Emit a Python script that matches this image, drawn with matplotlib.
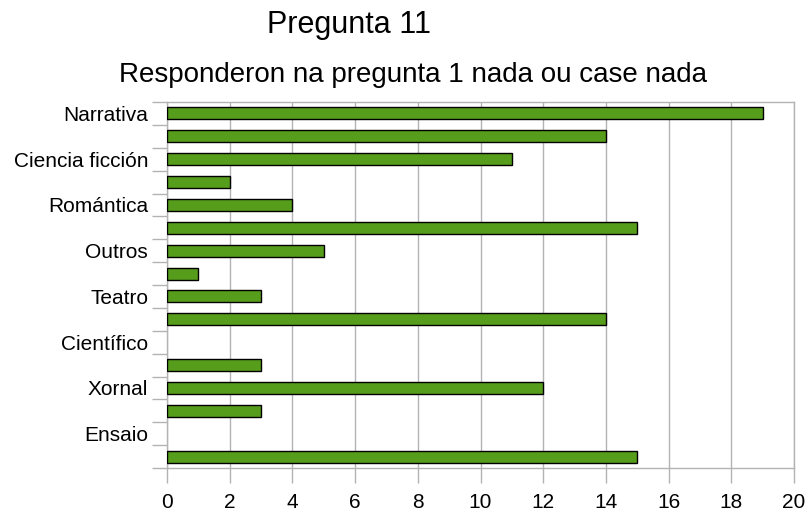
import matplotlib
matplotlib.use("Agg")
import matplotlib.pyplot as plt
import numpy as np

plt.rcParams['font.family'] = ['Liberation Sans', 'DejaVu Sans']

categories = ["Narrativa", "", "Ciencia ficción", "", "Romántica", "", "Outros", "",
              "Teatro", "", "Científico", "", "Xornal", "", "Ensaio", ""]
values = [19, 14, 11, 2, 4, 15, 5, 1, 3, 14, 0, 3, 12, 3, 0, 15]
xticks = [0, 2, 4, 6, 8, 10, 12, 14, 16, 18, 20]

fig = plt.figure(figsize=(8.08, 5.08), dpi=100)
ax = fig.add_axes([167/808, 1-468/508, (794-167)/808, (468-102)/508])

pos = np.arange(len(values))
edges = ['black' if v > 0 else 'none' for v in values]
ax.barh(pos, values, height=0.52, color='#579d1c', edgecolor=edges, linewidth=1, zorder=3)

ax.set_xlim(0, 20)
ax.set_ylim(len(values) - 0.5, -0.5)
ax.set_xticks(xticks)
ax.set_xticklabels([str(t) for t in xticks], fontsize=15)
ax.tick_params(axis='x', length=11, color='#b3b3b3', pad=7, width=1)
ax.grid(axis='x', color='#b3b3b3', linewidth=1, zorder=0)

# boundaries as major ticks, labels as minor ticks at centers
ax.set_yticks(np.arange(-0.5, len(values) + 0.5, 1))
ax.set_yticklabels([])
ax.set_yticks(pos, minor=True)
ax.set_yticklabels(categories, minor=True, fontsize=15)
ax.tick_params(axis='y', which='major', length=11, color='#b3b3b3', width=1)
ax.tick_params(axis='y', which='minor', length=0, pad=13.5)

for s in ax.spines.values():
    s.set_color('#b3b3b3')
    s.set_linewidth(1)

fig.text(349/808, 1-33/508, "Pregunta 11", ha='center', va='baseline', fontsize=22)
fig.text(413/808, 1-82/508, "Responderon na pregunta 1 nada ou case nada", ha='center', va='baseline', fontsize=20)

fig.savefig("out.png", dpi=100)
